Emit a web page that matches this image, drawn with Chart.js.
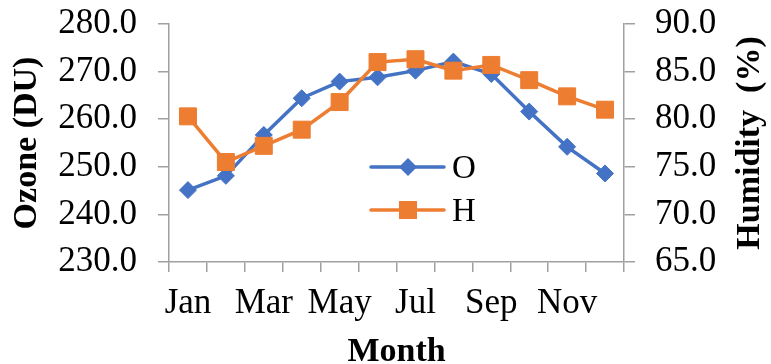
<!DOCTYPE html>
<html>
<head>
<meta charset="utf-8">
<script src="https://cdn.jsdelivr.net/npm/chart.js@4/dist/chart.umd.min.js"></script>
<style>
  html, body { margin: 0; padding: 0; background: #fff; }
  #wrap { width: 771px; height: 364px; position: relative; }
</style>
</head>
<body>
<div id="wrap"><canvas id="c"></canvas></div>
<script>
// Monthly ozone column and relative humidity
const months = ['Jan', 'Feb', 'Mar', 'Apr', 'May', 'Jun', 'Jul', 'Aug', 'Sep', 'Oct', 'Nov', 'Dec'];
const ozone = [245.1, 248.1, 256.7, 264.4, 267.9, 268.8, 270.2, 272.1, 269.5, 261.6, 254.2, 248.6];
const humidity = [80.3, 75.5, 77.2, 78.9, 81.8, 86.0, 86.3, 85.1, 85.7, 84.1, 82.4, 81.0];
const ozoneTicks = [230, 240, 250, 260, 270, 280];
const humidityTicks = [65, 70, 75, 80, 85, 90];
const seriesNames = ['O', 'H'];
const axisTitles = { x: 'Month', y: 'Ozone (DU)', y1: 'Humidity  (%)' };

const BLUE = '#4472C4';
const ORANGE = '#ED7D31';
const AXIS = '#A0A0A0';
const SERIF = "'Liberation Serif', 'Times New Roman', serif";

// Draws the in-plot legend and the three axis titles
const decorations = {
  id: 'decorations',
  afterDraw(chart) {
    const ctx = chart.ctx;
    const area = chart.chartArea;
    ctx.save();

    // legend
    const entries = [
      { name: seriesNames[0], color: BLUE, style: 'diamond', y: 167 },
      { name: seriesNames[1], color: ORANGE, style: 'square', y: 210 }
    ];
    entries.forEach(e => {
      ctx.strokeStyle = e.color;
      ctx.lineWidth = 3.5;
      ctx.lineCap = 'round';
      ctx.beginPath();
      ctx.moveTo(371, e.y);
      ctx.lineTo(444, e.y);
      ctx.stroke();
      ctx.fillStyle = e.color;
      ctx.beginPath();
      if (e.style === 'diamond') {
        const r = 9;
        ctx.moveTo(408, e.y - r);
        ctx.lineTo(408 + r, e.y);
        ctx.lineTo(408, e.y + r);
        ctx.lineTo(408 - r, e.y);
        ctx.closePath();
      } else {
        ctx.rect(408 - 9, e.y - 9, 18, 18);
      }
      ctx.fill();
      ctx.fillStyle = '#000';
      ctx.font = '33px ' + SERIF;
      ctx.textAlign = 'left';
      ctx.textBaseline = 'alphabetic';
      ctx.fillText(e.name, 452, e.y + 11);
    });

    // axis titles
    ctx.fillStyle = '#000';
    ctx.font = 'bold 34px ' + SERIF;
    ctx.textAlign = 'center';
    ctx.textBaseline = 'alphabetic';
    const midY = (area.top + area.bottom) / 2;

    ctx.save();
    ctx.translate(36, midY);
    ctx.rotate(-Math.PI / 2);
    ctx.fillText(axisTitles.y, 0, 0);
    ctx.restore();

    ctx.save();
    ctx.translate(759, midY);
    ctx.rotate(-Math.PI / 2);
    ctx.fillText(axisTitles.y1, 0, 0);
    ctx.restore();

    ctx.fillText(axisTitles.x, (area.left + area.right) / 2, 361);
    ctx.restore();
  }
};

// fixed box sizes for each axis, with no extra overflow padding
const fixWidth = w => s => { s.width = w; s.paddingTop = 0; s.paddingBottom = 0; };

new Chart(document.getElementById('c'), {
  type: 'line',
  data: {
    labels: months,
    datasets: [
      {
        label: seriesNames[0],
        data: ozone,
        yAxisID: 'y',
        borderColor: BLUE,
        backgroundColor: BLUE,
        borderWidth: 3.5,
        pointStyle: 'rectRot',
        pointRadius: 8.5,
        pointBorderWidth: 1,
        pointBackgroundColor: BLUE,
        pointBorderColor: BLUE,
        tension: 0,
        order: 1
      },
      {
        label: seriesNames[1],
        data: humidity,
        yAxisID: 'y1',
        borderColor: ORANGE,
        backgroundColor: ORANGE,
        borderWidth: 3.5,
        pointStyle: 'rect',
        pointRadius: 12,
        pointBorderWidth: 1,
        pointBackgroundColor: ORANGE,
        pointBorderColor: ORANGE,
        tension: 0,
        order: 0
      }
    ]
  },
  options: {
    responsive: true,
    maintainAspectRatio: false,
    animation: false,
    layout: { padding: { top: 24, left: 0, right: 0, bottom: 0 } },
    plugins: {
      legend: { display: false },
      tooltip: { enabled: false }
    },
    scales: {
      x: {
        offset: true,
        grid: {
          offset: true,
          drawOnChartArea: false,
          drawTicks: true,
          tickLength: 10,
          color: AXIS,
          lineWidth: 1.5
        },
        border: { color: AXIS, width: 1.5 },
        ticks: {
          autoSkip: false,
          maxRotation: 0,
          padding: 11,
          color: '#000',
          font: { family: SERIF, size: 35 },
          callback: (v, i) => (i % 2 === 0 ? months[i] : '')
        },
        afterFit: s => { s.height = 102; s.paddingLeft = 0; s.paddingRight = 0; }
      },
      y: {
        position: 'left',
        min: ozoneTicks[0],
        max: ozoneTicks[ozoneTicks.length - 1],
        afterBuildTicks: s => { s.ticks = ozoneTicks.map(v => ({ value: v })); },
        grid: {
          drawOnChartArea: false,
          drawTicks: true,
          tickLength: 11,
          color: AXIS,
          lineWidth: 1.5
        },
        border: { color: AXIS, width: 1.5 },
        ticks: {
          autoSkip: false,
          padding: 21,
          color: '#000',
          font: { family: SERIF, size: 35 },
          callback: v => Number(v).toFixed(1)
        },
        afterFit: fixWidth(169)
      },
      y1: {
        position: 'right',
        min: humidityTicks[0],
        max: humidityTicks[humidityTicks.length - 1],
        afterBuildTicks: s => { s.ticks = humidityTicks.map(v => ({ value: v })); },
        grid: {
          drawOnChartArea: false,
          drawTicks: true,
          tickLength: 11,
          color: AXIS,
          lineWidth: 1.5
        },
        border: { color: AXIS, width: 1.5 },
        ticks: {
          autoSkip: false,
          padding: 20,
          color: '#000',
          font: { family: SERIF, size: 35 },
          callback: v => Number(v).toFixed(1)
        },
        afterFit: fixWidth(147)
      }
    }
  },
  plugins: [decorations]
});
</script>
</body>
</html>
